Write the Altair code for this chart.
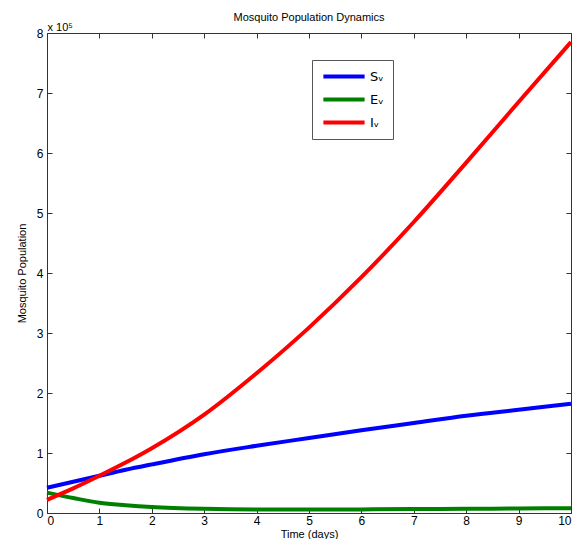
import altair as alt
import pandas as pd

days = [0, 0.5, 1, 1.5, 2, 3, 4, 5, 6, 7, 8, 9, 10]
sv = [0.42, 0.52, 0.62, 0.72, 0.81, 0.98, 1.12, 1.25, 1.38, 1.50, 1.62, 1.72, 1.82]
ev = [0.34, 0.25, 0.17, 0.13, 0.10, 0.07, 0.06, 0.06, 0.06, 0.065, 0.07, 0.075, 0.08]
iv = [0.22, 0.41, 0.62, 0.84, 1.08, 1.64, 2.33, 3.09, 3.93, 4.85, 5.84, 6.85, 7.85]
names = ["Sᵥ", "Eᵥ", "Iᵥ"]
colors = ["#0000FF", "#008000", "#FF0000"]

rows = []
for n, vals in zip(names, [sv, ev, iv]):
    for d, v in zip(days, vals):
        rows.append({"day": d, "pop": v, "series": n})
df = pd.DataFrame(rows)

FONT = "Liberation Sans"
xscale = alt.Scale(domain=[0, 10], nice=False, zero=False)
yscale = alt.Scale(domain=[0, 8], nice=False)

common_axis = dict(domain=False, grid=False, offset=-5, tickSize=5, tickColor="#333",
                   labelFont=FONT, labelFontSize=12, labelColor="#000",
                   titleFont=FONT, titleFontSize=11, titleFontWeight="normal", titleColor="#000")

lines = alt.Chart(df).mark_line(strokeWidth=4, interpolate="monotone").encode(
    x=alt.X("day:Q", scale=xscale,
            axis=alt.Axis(values=list(range(11)), title="Time (days)", labelPadding=2, titlePadding=2, **common_axis)),
    y=alt.Y("pop:Q", scale=yscale,
            axis=alt.Axis(values=list(range(9)), title="Mosquito Population", labelPadding=4, titlePadding=9, **common_axis)),
    color=alt.Color("series:N", sort=names,
                    scale=alt.Scale(domain=names, range=colors),
                    legend=alt.Legend(title=None, orient="none", legendX=265, legendY=27,
                                      symbolType="stroke", symbolSize=1700, symbolStrokeWidth=4,
                                      clipHeight=15, rowPadding=8,
                                      labelFont="DejaVu Sans", labelFontSize=13, labelColor="#000",
                                      strokeColor="#555", padding=9, fillColor="white",
                                      labelOffset=3)),
)

frame = alt.Chart(df).mark_line(opacity=0).encode(
    x=alt.X("day:Q", scale=xscale,
            axis=alt.Axis(orient="top", values=list(range(11)), labels=False,
                          title="x 10⁵", titleX=0, titleY=-6, titleAlign="left", titleBaseline="bottom",
                          **common_axis)),
    y=alt.Y("pop:Q", scale=yscale,
            axis=alt.Axis(orient="right", values=list(range(9)), labels=False, title=None,
                          **{k: v for k, v in common_axis.items() if not k.startswith("title")})),
)

chart = alt.layer(lines, frame).resolve_axis(x="independent", y="independent").properties(
    width=568, height=531,
    autosize=alt.AutoSizeParams(type="fit", contains="padding"),
    title=alt.TitleParams("Mosquito Population Dynamics", font=FONT, fontSize=11,
                          fontWeight="normal", color="#000", offset=-2),
    padding={"left": 8, "top": 4, "right": -3, "bottom": 0},
).configure_view(stroke="#333", strokeWidth=1)

chart.save("out.html", embed_options={"renderer": "svg", "actions": False})
